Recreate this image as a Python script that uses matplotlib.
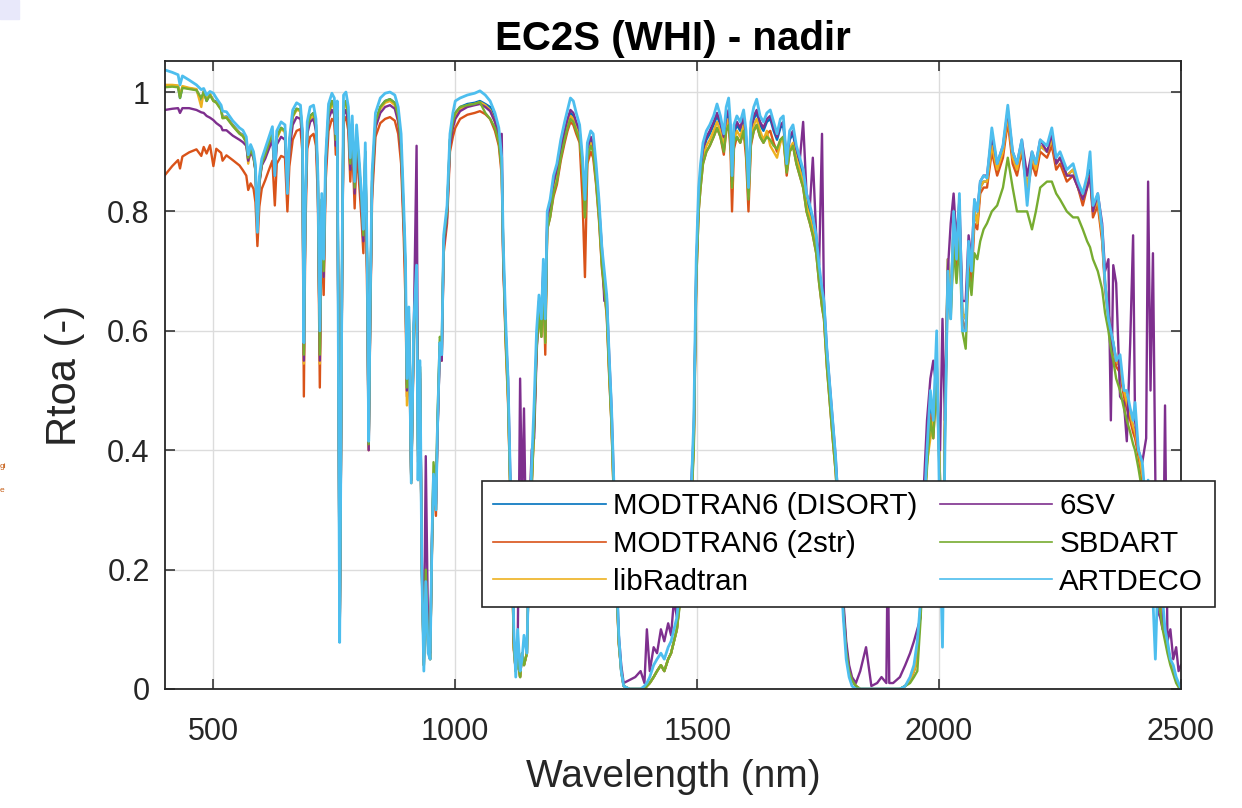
import matplotlib
matplotlib.use("Agg")
import matplotlib.pyplot as plt
from matplotlib.patches import Rectangle

plt.rcParams["font.family"] = ["Liberation Sans", "DejaVu Sans"]

# Top-of-atmosphere reflectance, EC2S (WHI) scene, nadir view.
# One shared wavelength grid (nm); one reflectance list per RT code.
WAVELENGTH = [
    # 400-600
    400, 415, 427, 431, 436, 450, 465, 475, 480, 486, 493, 500, 506, 516, 519, 527, 540, 554, 561, 568,
    572, 577, 583, 587, 591, 595, 600,
    # 600-830
    607, 615, 622, 627, 631, 640, 648, 653, 657, 664, 672, 680, 684, 687, 690, 694, 700, 707, 712, 716,
    720, 724, 728, 732, 738, 745, 750, 753, 756, 759, 761, 763, 766, 769, 774, 779, 783, 787, 792, 796,
    801, 806, 810, 814, 818, 821, 824, 828,
    # 830-1000
    835, 845, 855, 865, 875, 882, 888, 893, 897, 900, 904, 909, 914, 920, 923, 927, 931, 935, 939, 944,
    948, 952, 955, 960, 963, 968, 972, 976, 983, 989, 995, 1000,
    # 1000-1350
    1010, 1025, 1040, 1051, 1062, 1072, 1082, 1090, 1096, 1099, 1104, 1109, 1113, 1117, 1121, 1125,
    1129, 1134, 1138, 1142, 1148, 1153, 1158, 1163, 1168, 1173, 1178, 1182, 1186, 1190, 1196, 1203,
    1210, 1218, 1226, 1232, 1238, 1244, 1250, 1257, 1263, 1268, 1273, 1280, 1285, 1291, 1297, 1303,
    1308, 1313, 1318, 1323, 1328, 1333, 1338, 1343, 1348,
    # 1350-1505
    1360, 1372, 1383, 1391, 1396, 1402, 1410, 1417, 1425, 1432, 1440, 1446, 1452, 1458, 1464, 1470,
    1476, 1482, 1488, 1493, 1498, 1503,
    # 1505-1830
    1507, 1512, 1519, 1526, 1534, 1541, 1548, 1555, 1560, 1565, 1569, 1572, 1576, 1582, 1589, 1596,
    1601, 1606, 1611, 1617, 1623, 1630, 1637, 1644, 1651, 1658, 1665, 1672, 1678, 1685, 1691, 1698,
    1705, 1712, 1719, 1726, 1733, 1739, 1746, 1752, 1758, 1762, 1768, 1774, 1780, 1786, 1792, 1797,
    1802, 1808, 1814, 1820, 1828,
    # 1830-1950
    1837, 1849, 1860, 1872, 1881, 1891, 1894, 1897, 1905, 1919, 1930, 1940, 1948,
    # 1950-2090
    1955, 1962, 1968, 1975, 1982, 1988, 1995, 2002, 2007, 2012, 2018, 2024, 2030, 2036, 2042, 2048,
    2055, 2061, 2067, 2073, 2079, 2085,
    # 2090-2340
    2092, 2099, 2109, 2120, 2132, 2142, 2152, 2161, 2171, 2182, 2192, 2200, 2209, 2223, 2233, 2242,
    2250, 2264, 2277, 2287, 2297, 2306, 2312, 2318, 2328, 2337,
    # 2340-2500
    2343, 2350, 2355, 2360, 2366, 2374, 2382, 2388, 2395, 2401, 2405, 2412, 2420, 2428, 2432, 2437,
    2442, 2447, 2452, 2457, 2462, 2467, 2472, 2478, 2484, 2490, 2495, 2500,
]

R_MODTRAN_DISORT = [
    1.010, 1.011, 1.010, 0.990, 1.008, 1.006, 1.004, 0.985, 1.001, 0.985, 0.996, 0.986, 0.984, 0.972, 0.958, 0.959, 0.945, 0.932, 0.928, 0.918,
    0.885, 0.905, 0.893, 0.870, 0.775, 0.850, 0.880,
    0.895, 0.915, 0.932, 0.870, 0.925, 0.940, 0.935, 0.845, 0.915, 0.960, 0.972, 0.970, 0.930, 0.560, 0.800, 0.940, 0.960, 0.965, 0.945, 0.850,
    0.560, 0.820, 0.700, 0.880, 0.965, 0.985, 0.975, 0.920, 0.970, 0.500, 0.085, 0.300, 0.700, 0.975, 0.985, 0.960, 0.880, 0.945, 0.840, 0.930,
    0.880, 0.820, 0.760, 0.900, 0.700, 0.410, 0.620, 0.850,
    0.950, 0.975, 0.985, 0.988, 0.982, 0.960, 0.910, 0.800, 0.700, 0.510, 0.630, 0.350, 0.600, 0.700, 0.400, 0.540, 0.200, 0.040, 0.200, 0.070,
    0.050, 0.250, 0.360, 0.300, 0.430, 0.580, 0.560, 0.750, 0.800, 0.920, 0.950, 0.965,
    0.975, 0.980, 0.982, 0.985, 0.980, 0.975, 0.955, 0.930, 0.880, 0.740, 0.600, 0.500, 0.360, 0.240, 0.070, 0.030,
    0.050, 0.020, 0.060, 0.040, 0.060, 0.240, 0.350, 0.450, 0.580, 0.640, 0.600, 0.700, 0.590, 0.780, 0.800, 0.840,
    0.860, 0.900, 0.930, 0.950, 0.965, 0.960, 0.945, 0.930, 0.880, 0.800, 0.900, 0.920, 0.910, 0.860, 0.800, 0.720,
    0.680, 0.640, 0.540, 0.450, 0.320, 0.180, 0.080, 0.030, 0.005,
    0.000, 0.000, 0.000, 0.000, 0.005, 0.010, 0.020, 0.030, 0.040, 0.030, 0.050, 0.060, 0.080, 0.100, 0.150, 0.180,
    0.250, 0.290, 0.320, 0.420, 0.700, 0.820,
    0.860, 0.900, 0.920, 0.930, 0.945, 0.960, 0.945, 0.920, 0.955, 0.965, 0.930, 0.850, 0.930, 0.945, 0.935, 0.955,
    0.920, 0.830, 0.935, 0.955, 0.965, 0.945, 0.935, 0.950, 0.955, 0.935, 0.920, 0.940, 0.945, 0.880, 0.920, 0.930,
    0.900, 0.880, 0.860, 0.820, 0.800, 0.780, 0.750, 0.700, 0.660, 0.640, 0.560, 0.500, 0.440, 0.380, 0.300, 0.220,
    0.140, 0.070, 0.030, 0.015, 0.005,
    0.000, 0.000, 0.000, 0.000, 0.000, 0.000, 0.000, 0.000, 0.000, 0.000, 0.005, 0.015, 0.030,
    0.050, 0.150, 0.300, 0.400, 0.480, 0.430, 0.550, 0.350, 0.120, 0.450, 0.720, 0.650, 0.780, 0.720, 0.800, 0.630,
    0.620, 0.740, 0.700, 0.800, 0.780, 0.840,
    0.850, 0.850, 0.920, 0.870, 0.900, 0.960, 0.890, 0.870, 0.910, 0.840, 0.890, 0.870, 0.910, 0.900, 0.920, 0.880,
    0.890, 0.860, 0.870, 0.840, 0.820, 0.850, 0.870, 0.800, 0.820, 0.760,
    0.680, 0.630, 0.600, 0.580, 0.550, 0.540, 0.500, 0.480, 0.460, 0.440, 0.430, 0.400, 0.360, 0.320, 0.300, 0.270,
    0.240, 0.210, 0.180, 0.150, 0.120, 0.090, 0.070, 0.050, 0.030, 0.015, 0.005, 0.000,
]

R_MODTRAN_2STR = [
    0.861, 0.876, 0.886, 0.872, 0.892, 0.899, 0.904, 0.893, 0.908, 0.897, 0.911, 0.876, 0.905, 0.898, 0.885, 0.894, 0.886, 0.877, 0.869, 0.860,
    0.836, 0.847, 0.838, 0.815, 0.742, 0.808, 0.838,
    0.852, 0.870, 0.885, 0.810, 0.880, 0.893, 0.890, 0.800, 0.875, 0.920, 0.935, 0.938, 0.900, 0.490, 0.760, 0.905, 0.925, 0.930, 0.910, 0.820,
    0.505, 0.790, 0.660, 0.850, 0.935, 0.955, 0.950, 0.895, 0.945, 0.470, 0.080, 0.290, 0.680, 0.950, 0.958, 0.935, 0.850, 0.918, 0.805, 0.900,
    0.850, 0.790, 0.730, 0.870, 0.650, 0.400, 0.600, 0.820,
    0.925, 0.948, 0.955, 0.958, 0.952, 0.930, 0.880, 0.770, 0.650, 0.490, 0.600, 0.345, 0.580, 0.680, 0.380, 0.520, 0.190, 0.040, 0.190, 0.065,
    0.050, 0.240, 0.350, 0.290, 0.420, 0.570, 0.550, 0.730, 0.780, 0.900, 0.925, 0.940,
    0.955, 0.962, 0.965, 0.968, 0.963, 0.955, 0.935, 0.910, 0.860, 0.720, 0.580, 0.480, 0.350, 0.230, 0.065, 0.030,
    0.050, 0.020, 0.060, 0.040, 0.060, 0.230, 0.340, 0.440, 0.570, 0.630, 0.590, 0.690, 0.560, 0.770, 0.790, 0.825,
    0.845, 0.885, 0.915, 0.935, 0.950, 0.945, 0.930, 0.915, 0.820, 0.690, 0.880, 0.900, 0.890, 0.845, 0.785, 0.705,
    0.665, 0.625, 0.525, 0.440, 0.310, 0.175, 0.075, 0.030, 0.005,
    0.000, 0.000, 0.000, 0.000, 0.005, 0.010, 0.020, 0.030, 0.040, 0.030, 0.050, 0.060, 0.080, 0.100, 0.145, 0.175,
    0.245, 0.285, 0.315, 0.410, 0.680, 0.800,
    0.840, 0.880, 0.900, 0.910, 0.925, 0.940, 0.925, 0.895, 0.935, 0.945, 0.900, 0.800, 0.905, 0.925, 0.915, 0.935,
    0.890, 0.800, 0.910, 0.935, 0.945, 0.925, 0.915, 0.930, 0.935, 0.915, 0.900, 0.920, 0.925, 0.860, 0.900, 0.910,
    0.880, 0.860, 0.840, 0.800, 0.780, 0.760, 0.730, 0.680, 0.640, 0.620, 0.540, 0.480, 0.420, 0.365, 0.290, 0.210,
    0.130, 0.065, 0.030, 0.015, 0.005,
    0.000, 0.000, 0.000, 0.000, 0.000, 0.000, 0.000, 0.000, 0.000, 0.000, 0.005, 0.015, 0.030,
    0.050, 0.140, 0.280, 0.380, 0.460, 0.420, 0.530, 0.340, 0.120, 0.440, 0.700, 0.630, 0.760, 0.700, 0.780, 0.620,
    0.600, 0.720, 0.680, 0.780, 0.770, 0.830,
    0.840, 0.840, 0.900, 0.860, 0.890, 0.950, 0.880, 0.860, 0.900, 0.830, 0.880, 0.860, 0.900, 0.890, 0.910, 0.870,
    0.880, 0.850, 0.860, 0.840, 0.810, 0.840, 0.860, 0.790, 0.810, 0.750,
    0.670, 0.620, 0.590, 0.570, 0.540, 0.530, 0.490, 0.470, 0.450, 0.430, 0.420, 0.390, 0.350, 0.310, 0.290, 0.260,
    0.230, 0.200, 0.170, 0.140, 0.110, 0.090, 0.070, 0.050, 0.030, 0.015, 0.005, 0.000,
]

R_LIBRADTRAN = [
    1.012, 1.012, 1.011, 0.993, 1.010, 1.007, 1.005, 0.975, 1.002, 0.987, 0.997, 0.985, 0.983, 0.971, 0.957, 0.958, 0.944, 0.931, 0.927, 0.916,
    0.880, 0.903, 0.891, 0.868, 0.772, 0.848, 0.878,
    0.893, 0.913, 0.930, 0.865, 0.922, 0.938, 0.933, 0.840, 0.912, 0.958, 0.970, 0.968, 0.925, 0.545, 0.790, 0.935, 0.955, 0.960, 0.940, 0.845,
    0.545, 0.815, 0.690, 0.875, 0.960, 0.980, 0.972, 0.915, 0.968, 0.490, 0.085, 0.300, 0.700, 0.972, 0.982, 0.955, 0.875, 0.940, 0.835, 0.925,
    0.875, 0.815, 0.755, 0.895, 0.690, 0.405, 0.615, 0.845,
    0.945, 0.972, 0.982, 0.985, 0.978, 0.955, 0.905, 0.795, 0.690, 0.475, 0.620, 0.345, 0.595, 0.695, 0.390, 0.535, 0.195, 0.040, 0.200, 0.070,
    0.050, 0.250, 0.360, 0.300, 0.430, 0.580, 0.560, 0.745, 0.795, 0.915, 0.945, 0.960,
    0.972, 0.978, 0.980, 0.983, 0.978, 0.970, 0.950, 0.925, 0.875, 0.735, 0.590, 0.490, 0.355, 0.235, 0.070, 0.030,
    0.050, 0.020, 0.060, 0.040, 0.060, 0.240, 0.345, 0.445, 0.575, 0.635, 0.595, 0.695, 0.580, 0.775, 0.795, 0.835,
    0.855, 0.895, 0.925, 0.945, 0.960, 0.955, 0.940, 0.925, 0.870, 0.790, 0.895, 0.915, 0.905, 0.855, 0.795, 0.715,
    0.675, 0.635, 0.535, 0.445, 0.315, 0.180, 0.080, 0.030, 0.005,
    0.000, 0.000, 0.000, 0.000, 0.005, 0.010, 0.020, 0.030, 0.040, 0.030, 0.050, 0.060, 0.080, 0.100, 0.150, 0.180,
    0.250, 0.290, 0.320, 0.415, 0.690, 0.810,
    0.850, 0.890, 0.910, 0.920, 0.935, 0.950, 0.935, 0.910, 0.945, 0.955, 0.920, 0.840, 0.920, 0.935, 0.925, 0.945,
    0.910, 0.825, 0.925, 0.945, 0.955, 0.935, 0.920, 0.935, 0.910, 0.900, 0.890, 0.915, 0.925, 0.870, 0.905, 0.915,
    0.890, 0.870, 0.850, 0.810, 0.790, 0.770, 0.740, 0.690, 0.650, 0.630, 0.550, 0.490, 0.430, 0.375, 0.295, 0.215,
    0.135, 0.070, 0.030, 0.015, 0.005,
    0.000, 0.000, 0.000, 0.000, 0.000, 0.000, 0.000, 0.000, 0.000, 0.000, 0.005, 0.015, 0.030,
    0.050, 0.150, 0.300, 0.380, 0.420, 0.450, 0.550, 0.350, 0.120, 0.450, 0.720, 0.650, 0.780, 0.720, 0.800, 0.630,
    0.620, 0.740, 0.700, 0.800, 0.780, 0.840,
    0.850, 0.850, 0.910, 0.870, 0.900, 0.960, 0.890, 0.870, 0.910, 0.840, 0.890, 0.870, 0.910, 0.900, 0.920, 0.880,
    0.890, 0.860, 0.870, 0.840, 0.820, 0.850, 0.860, 0.800, 0.820, 0.760,
    0.680, 0.630, 0.600, 0.580, 0.550, 0.540, 0.500, 0.480, 0.460, 0.440, 0.430, 0.400, 0.360, 0.320, 0.300, 0.270,
    0.240, 0.210, 0.180, 0.150, 0.120, 0.090, 0.070, 0.050, 0.030, 0.015, 0.005, 0.000,
]

R_6SV = [
    0.970, 0.972, 0.973, 0.965, 0.973, 0.973, 0.970, 0.966, 0.965, 0.960, 0.957, 0.953, 0.948, 0.942, 0.936, 0.936, 0.927, 0.920, 0.916, 0.910,
    0.885, 0.900, 0.890, 0.868, 0.778, 0.846, 0.877,
    0.888, 0.905, 0.920, 0.860, 0.912, 0.925, 0.920, 0.835, 0.900, 0.945, 0.958, 0.955, 0.918, 0.550, 0.790, 0.930, 0.950, 0.955, 0.935, 0.840,
    0.550, 0.810, 0.690, 0.870, 0.955, 0.970, 0.962, 0.910, 0.958, 0.480, 0.082, 0.290, 0.690, 0.962, 0.970, 0.948, 0.870, 0.935, 0.830, 0.920,
    0.870, 0.810, 0.750, 0.890, 0.690, 0.400, 0.610, 0.840,
    0.940, 0.965, 0.975, 0.978, 0.972, 0.950, 0.900, 0.790, 0.690, 0.500, 0.620, 0.350, 0.590, 0.910, 0.450, 0.530, 0.210, 0.045, 0.390, 0.080,
    0.060, 0.260, 0.340, 0.310, 0.420, 0.570, 0.550, 0.740, 0.790, 0.910, 0.940, 0.955,
    0.968, 0.975, 0.978, 0.980, 0.975, 0.968, 0.950, 0.925, 0.930, 0.720, 0.600, 0.520, 0.380, 0.250, 0.080, 0.040,
    0.070, 0.520, 0.300, 0.470, 0.150, 0.300, 0.400, 0.420, 0.560, 0.650, 0.610, 0.710, 0.600, 0.790, 0.810, 0.850,
    0.870, 0.905, 0.935, 0.955, 0.970, 0.965, 0.950, 0.935, 0.880, 0.800, 0.905, 0.925, 0.915, 0.870, 0.810, 0.740,
    0.650, 0.660, 0.560, 0.470, 0.340, 0.200, 0.090, 0.040, 0.010,
    0.015, 0.020, 0.030, 0.010, 0.100, 0.030, 0.070, 0.060, 0.100, 0.080, 0.110, 0.090, 0.150, 0.120, 0.210, 0.200,
    0.280, 0.310, 0.350, 0.430, 0.700, 0.820,
    0.865, 0.905, 0.925, 0.935, 0.950, 0.965, 0.950, 0.925, 0.960, 0.970, 0.935, 0.850, 0.935, 0.950, 0.940, 0.960,
    0.925, 0.835, 0.940, 0.960, 0.970, 0.950, 0.940, 0.955, 0.960, 0.940, 0.925, 0.945, 0.950, 0.885, 0.925, 0.935,
    0.905, 0.885, 0.950, 0.830, 0.810, 0.890, 0.760, 0.710, 0.930, 0.650, 0.570, 0.510, 0.450, 0.390, 0.310, 0.230,
    0.150, 0.080, 0.040, 0.020, 0.010,
    0.030, 0.070, 0.005, 0.010, 0.020, 0.010, 0.250, 0.010, 0.010, 0.020, 0.040, 0.060, 0.080,
    0.100, 0.120, 0.330, 0.450, 0.520, 0.550, 0.500, 0.400, 0.620, 0.450, 0.700, 0.780, 0.830, 0.750, 0.820, 0.650,
    0.650, 0.760, 0.720, 0.820, 0.800, 0.850,
    0.860, 0.860, 0.930, 0.880, 0.910, 0.970, 0.900, 0.880, 0.920, 0.860, 0.900, 0.880, 0.920, 0.900, 0.930, 0.880,
    0.890, 0.860, 0.860, 0.840, 0.820, 0.840, 0.860, 0.800, 0.830, 0.780,
    0.700, 0.720, 0.450, 0.710, 0.680, 0.490, 0.480, 0.415, 0.580, 0.760, 0.450, 0.400, 0.380, 0.420, 0.850, 0.500,
    0.730, 0.350, 0.130, 0.120, 0.100, 0.475, 0.080, 0.100, 0.050, 0.070, 0.030, 0.040,
]

R_SBDART = [
    1.008, 1.009, 1.008, 0.990, 1.007, 1.005, 1.003, 0.990, 1.000, 0.985, 0.995, 0.985, 0.982, 0.970, 0.956, 0.957, 0.943, 0.930, 0.926, 0.915,
    0.890, 0.904, 0.892, 0.870, 0.778, 0.850, 0.880,
    0.895, 0.915, 0.932, 0.868, 0.925, 0.940, 0.935, 0.845, 0.915, 0.960, 0.972, 0.970, 0.930, 0.560, 0.800, 0.940, 0.960, 0.965, 0.945, 0.850,
    0.560, 0.820, 0.700, 0.880, 0.965, 0.985, 0.975, 0.920, 0.970, 0.500, 0.085, 0.300, 0.700, 0.975, 0.985, 0.960, 0.880, 0.945, 0.840, 0.930,
    0.880, 0.820, 0.760, 0.900, 0.700, 0.410, 0.620, 0.850,
    0.950, 0.975, 0.985, 0.988, 0.982, 0.960, 0.910, 0.800, 0.700, 0.505, 0.630, 0.350, 0.600, 0.700, 0.400, 0.540, 0.200, 0.040, 0.200, 0.070,
    0.050, 0.250, 0.380, 0.330, 0.450, 0.590, 0.580, 0.750, 0.800, 0.920, 0.950, 0.965,
    0.975, 0.978, 0.980, 0.983, 0.965, 0.955, 0.940, 0.915, 0.870, 0.730, 0.590, 0.490, 0.350, 0.230, 0.070, 0.030,
    0.050, 0.020, 0.060, 0.040, 0.060, 0.230, 0.340, 0.440, 0.570, 0.630, 0.590, 0.690, 0.580, 0.770, 0.790, 0.830,
    0.850, 0.890, 0.920, 0.940, 0.955, 0.950, 0.935, 0.920, 0.870, 0.790, 0.890, 0.910, 0.900, 0.850, 0.790, 0.710,
    0.670, 0.630, 0.530, 0.440, 0.310, 0.175, 0.075, 0.030, 0.005,
    0.000, 0.000, 0.000, 0.000, 0.005, 0.010, 0.020, 0.030, 0.040, 0.030, 0.050, 0.060, 0.080, 0.100, 0.140, 0.170,
    0.240, 0.280, 0.310, 0.400, 0.680, 0.800,
    0.840, 0.880, 0.900, 0.910, 0.925, 0.940, 0.925, 0.900, 0.935, 0.945, 0.915, 0.840, 0.915, 0.925, 0.915, 0.935,
    0.905, 0.820, 0.915, 0.935, 0.945, 0.925, 0.915, 0.925, 0.920, 0.910, 0.905, 0.920, 0.925, 0.865, 0.900, 0.910,
    0.880, 0.860, 0.840, 0.800, 0.780, 0.760, 0.730, 0.680, 0.640, 0.620, 0.540, 0.480, 0.420, 0.365, 0.290, 0.210,
    0.130, 0.065, 0.030, 0.015, 0.005,
    0.000, 0.000, 0.000, 0.000, 0.000, 0.000, 0.000, 0.000, 0.000, 0.000, 0.005, 0.010, 0.020,
    0.030, 0.120, 0.280, 0.370, 0.450, 0.420, 0.520, 0.330, 0.120, 0.420, 0.680, 0.620, 0.740, 0.680, 0.750, 0.600,
    0.570, 0.700, 0.660, 0.730, 0.720, 0.750,
    0.770, 0.780, 0.800, 0.810, 0.840, 0.890, 0.840, 0.800, 0.800, 0.800, 0.770, 0.800, 0.840, 0.850, 0.850, 0.830,
    0.820, 0.800, 0.790, 0.790, 0.770, 0.750, 0.740, 0.720, 0.700, 0.670,
    0.630, 0.600, 0.570, 0.550, 0.520, 0.500, 0.470, 0.450, 0.430, 0.410, 0.400, 0.370, 0.330, 0.290, 0.270, 0.250,
    0.220, 0.190, 0.160, 0.130, 0.100, 0.080, 0.060, 0.040, 0.025, 0.010, 0.003, 0.000,
]

R_ARTDECO = [
    1.037, 1.033, 1.029, 1.012, 1.027, 1.020, 1.012, 1.004, 1.006, 0.995, 1.001, 0.998, 0.990, 0.978, 0.968, 0.967, 0.952, 0.940, 0.936, 0.925,
    0.895, 0.912, 0.900, 0.878, 0.765, 0.858, 0.888,
    0.905, 0.925, 0.942, 0.860, 0.935, 0.950, 0.945, 0.830, 0.920, 0.970, 0.982, 0.978, 0.935, 0.580, 0.810, 0.950, 0.975, 0.978, 0.955, 0.860,
    0.600, 0.830, 0.720, 0.890, 0.980, 0.998, 0.990, 0.930, 0.985, 0.450, 0.078, 0.320, 0.720, 0.995, 1.000, 0.975, 0.890, 0.960, 0.850, 0.945,
    0.890, 0.830, 0.770, 0.915, 0.720, 0.415, 0.640, 0.865,
    0.965, 0.990, 0.998, 1.000, 0.995, 0.975, 0.930, 0.820, 0.720, 0.520, 0.640, 0.345, 0.610, 0.710, 0.350, 0.550, 0.190, 0.030, 0.180, 0.060,
    0.050, 0.260, 0.360, 0.300, 0.430, 0.580, 0.560, 0.760, 0.810, 0.930, 0.965, 0.985,
    0.990, 0.995, 0.998, 1.002, 0.995, 0.985, 0.965, 0.940, 0.890, 0.750, 0.620, 0.520, 0.380, 0.260, 0.100, 0.020,
    0.100, 0.030, 0.050, 0.090, 0.060, 0.250, 0.380, 0.480, 0.600, 0.660, 0.620, 0.720, 0.620, 0.800, 0.820, 0.860,
    0.880, 0.920, 0.950, 0.970, 0.990, 0.985, 0.965, 0.945, 0.890, 0.820, 0.915, 0.935, 0.930, 0.880, 0.820, 0.740,
    0.700, 0.660, 0.560, 0.470, 0.340, 0.200, 0.090, 0.030, 0.005,
    0.000, 0.000, 0.000, 0.005, 0.010, 0.020, 0.040, 0.050, 0.060, 0.050, 0.070, 0.080, 0.100, 0.120, 0.170, 0.200,
    0.270, 0.310, 0.340, 0.450, 0.720, 0.840,
    0.880, 0.915, 0.935, 0.945, 0.960, 0.980, 0.960, 0.930, 0.975, 0.990, 0.945, 0.860, 0.945, 0.960, 0.950, 0.970,
    0.935, 0.840, 0.950, 0.975, 0.988, 0.960, 0.950, 0.965, 0.970, 0.950, 0.930, 0.955, 0.960, 0.880, 0.935, 0.945,
    0.910, 0.890, 0.870, 0.830, 0.810, 0.790, 0.760, 0.710, 0.670, 0.650, 0.570, 0.510, 0.450, 0.390, 0.300, 0.200,
    0.120, 0.050, 0.020, 0.005, 0.000,
    0.000, 0.000, 0.000, 0.000, 0.000, 0.000, 0.000, 0.000, 0.000, 0.000, 0.005, 0.020, 0.040,
    0.080, 0.150, 0.280, 0.400, 0.500, 0.450, 0.600, 0.250, 0.070, 0.400, 0.700, 0.620, 0.800, 0.720, 0.830, 0.600,
    0.600, 0.750, 0.700, 0.820, 0.800, 0.850,
    0.860, 0.856, 0.940, 0.880, 0.910, 0.978, 0.900, 0.880, 0.920, 0.810, 0.900, 0.880, 0.920, 0.910, 0.940, 0.890,
    0.900, 0.870, 0.880, 0.850, 0.830, 0.860, 0.900, 0.810, 0.830, 0.770,
    0.680, 0.620, 0.600, 0.580, 0.550, 0.560, 0.500, 0.500, 0.470, 0.450, 0.480, 0.400, 0.380, 0.300, 0.350, 0.300,
    0.150, 0.050, 0.180, 0.200, 0.150, 0.100, 0.080, 0.050, 0.040, 0.020, 0.010, 0.000,
]

SERIES = [
    ("MODTRAN6 (DISORT)", R_MODTRAN_DISORT, "#0072BD"),
    ("MODTRAN6 (2str)", R_MODTRAN_2STR, "#D95319"),
    ("libRadtran", R_LIBRADTRAN, "#EDB120"),
    ("6SV", R_6SV, "#7E2F8E"),
    ("SBDART", R_SBDART, "#77AC30"),
    ("ARTDECO", R_ARTDECO, "#4DBEEE"),
]

Y_TICKS = [0, 0.2, 0.4, 0.6, 0.8, 1.0]
Y_TICK_LABELS = ["0", "0.2", "0.4", "0.6", "0.8", "1"]
X_TICKS = [500, 1000, 1500, 2000, 2500]

for name, vals, _ in SERIES:
    if len(vals) != len(WAVELENGTH):
        raise ValueError(f"{name}: {len(vals)} values for {len(WAVELENGTH)} wavelengths")

W, H = 1242, 808
fig = plt.figure(figsize=(W / 100, H / 100), dpi=100)
ax = fig.add_axes([165 / W, 1 - 689 / H, (1181 - 165) / W, (689 - 61) / H])

for name, vals, color in SERIES:
    lw = 2.0 if name == "ARTDECO" else 1.7
    ax.plot(WAVELENGTH, vals, color=color, lw=lw, label=name)

ax.set_xlim(400, 2500)
ax.set_ylim(0, 1.052)
ax.set_xticks(X_TICKS)
ax.set_yticks(Y_TICKS)
ax.set_yticklabels(Y_TICK_LABELS)
ax.grid(True, color="#dcdcdc", lw=1.0)
ax.set_axisbelow(True)
for sp in ax.spines.values():
    sp.set_linewidth(1.3)
    sp.set_color("#262626")
ax.tick_params(direction="in", top=True, right=True, length=7, width=1.1,
               colors="#262626", labelsize=22)
ax.tick_params(axis="x", pad=20)
ax.tick_params(axis="y", pad=11)

ax.set_title("EC2S (WHI) - nadir", fontsize=29, fontweight="bold", pad=8)
ax.set_xlabel("Wavelength (nm)", fontsize=28, color="#262626", labelpad=9)
ax.set_ylabel("Rtoa (-)", fontsize=30, color="#262626", labelpad=16)

leg = ax.legend(ncol=2, loc="lower left", bbox_to_anchor=(0.312, 0.1306),
                borderaxespad=0, fontsize=21.3, frameon=True, fancybox=False,
                framealpha=1, edgecolor="#262626", handlelength=3.8,
                handletextpad=0.25, columnspacing=0.75, labelspacing=0.33,
                borderpad=0.38)
leg.get_frame().set_linewidth(1.2)
for ln in leg.get_lines():
    ln.set_linewidth(1.2)

# small marks left over along the page edge
fig.patches.append(Rectangle((0, 1 - 19 / H), 19 / W, 19 / H,
                             transform=fig.transFigure, color="#e8e8fa",
                             zorder=0))
fig.text(0.0, 1 - 467 / H, "gi", fontsize=6, color="#c55a11", va="center")
fig.text(0.0, 1 - 490 / H, "e", fontsize=6, color="#c55a11", va="center")

fig.savefig("out.png", dpi=100)
